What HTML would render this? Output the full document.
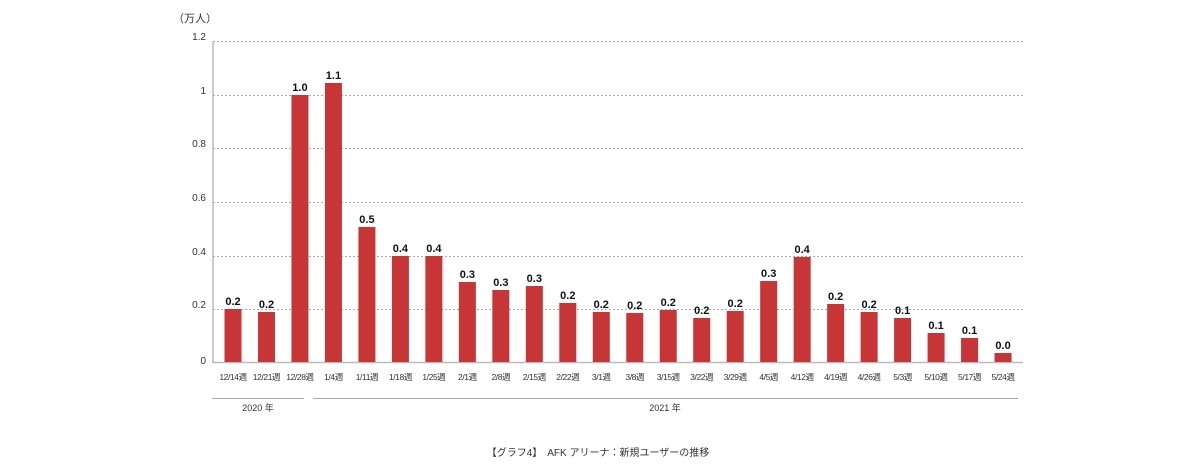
<!DOCTYPE html>
<html><head><meta charset="utf-8"><style>
body{margin:0;background:#fff;}
svg text{font-family:"Liberation Sans","Noto Sans CJK JP",sans-serif;}
.v{font-size:11px;font-weight:bold;fill:#111;text-anchor:middle;}
.l{font-size:8.5px;fill:#333;text-anchor:middle;letter-spacing:-0.4px;}
</style></head><body>
<svg width="1200" height="470" xmlns="http://www.w3.org/2000/svg">
<g stroke="#aaa" stroke-dasharray="2,2" stroke-width="1">
<line x1="213" x2="1023" y1="41.5" y2="41.5"/>
<line x1="213" x2="1023" y1="95.5" y2="95.5"/>
<line x1="213" x2="1023" y1="148.5" y2="148.5"/>
<line x1="213" x2="1023" y1="202.5" y2="202.5"/>
<line x1="213" x2="1023" y1="256.5" y2="256.5"/>
<line x1="213" x2="1023" y1="309.5" y2="309.5"/>
</g>
<line x1="213" x2="213" y1="41" y2="363" stroke="#bbb" stroke-width="1.5"/>
<line x1="212" x2="1023" y1="362.5" y2="362.5" stroke="#bbb" stroke-width="1.5"/>
<g font-size="10" fill="#333" text-anchor="end">
<text x="206" y="40">1.2</text><text x="206" y="94">1</text><text x="206" y="147">0.8</text>
<text x="206" y="201">0.6</text><text x="206" y="255">0.4</text><text x="206" y="308">0.2</text><text x="206" y="364">0</text>
</g>
<text x="173" y="22" font-size="11" fill="#333">（万人）</text>
<g fill="#c83537">
<rect x="224.5" y="309" width="17" height="53"/>
<rect x="257.98" y="312" width="17" height="50"/>
<rect x="291.46" y="95" width="17" height="267"/>
<rect x="324.94" y="83" width="17" height="279"/>
<rect x="358.42" y="227" width="17" height="135"/>
<rect x="391.9" y="256" width="17" height="106"/>
<rect x="425.38" y="256" width="17" height="106"/>
<rect x="458.86" y="282" width="17" height="80"/>
<rect x="492.34" y="290" width="17" height="72"/>
<rect x="525.82" y="286" width="17" height="76"/>
<rect x="559.3" y="303" width="17" height="59"/>
<rect x="592.78" y="312" width="17" height="50"/>
<rect x="626.26" y="313" width="17" height="49"/>
<rect x="659.74" y="310" width="17" height="52"/>
<rect x="693.22" y="318" width="17" height="44"/>
<rect x="726.7" y="311" width="17" height="51"/>
<rect x="760.18" y="281" width="17" height="81"/>
<rect x="793.66" y="257" width="17" height="105"/>
<rect x="827.14" y="304" width="17" height="58"/>
<rect x="860.62" y="312" width="17" height="50"/>
<rect x="894.1" y="318" width="17" height="44"/>
<rect x="927.58" y="333" width="17" height="29"/>
<rect x="961.06" y="338" width="17" height="24"/>
<rect x="994.54" y="353" width="17" height="9"/>
</g>
<text class="v" x="233" y="305">0.2</text>
<text class="v" x="266.48" y="308">0.2</text>
<text class="v" x="299.96" y="91">1.0</text>
<text class="v" x="333.44" y="79">1.1</text>
<text class="v" x="366.92" y="223">0.5</text>
<text class="v" x="400.4" y="252">0.4</text>
<text class="v" x="433.88" y="252">0.4</text>
<text class="v" x="467.36" y="278">0.3</text>
<text class="v" x="500.84" y="286">0.3</text>
<text class="v" x="534.32" y="282">0.3</text>
<text class="v" x="567.8" y="299">0.2</text>
<text class="v" x="601.28" y="308">0.2</text>
<text class="v" x="634.76" y="309">0.2</text>
<text class="v" x="668.24" y="306">0.2</text>
<text class="v" x="701.72" y="314">0.2</text>
<text class="v" x="735.2" y="307">0.2</text>
<text class="v" x="768.68" y="277">0.3</text>
<text class="v" x="802.16" y="253">0.4</text>
<text class="v" x="835.64" y="300">0.2</text>
<text class="v" x="869.12" y="308">0.2</text>
<text class="v" x="902.6" y="314">0.1</text>
<text class="v" x="936.08" y="329">0.1</text>
<text class="v" x="969.56" y="334">0.1</text>
<text class="v" x="1003.04" y="349">0.0</text>
<text class="l" x="233" y="380">12/14週</text>
<text class="l" x="266.48" y="380">12/21週</text>
<text class="l" x="299.96" y="380">12/28週</text>
<text class="l" x="333.44" y="380">1/4週</text>
<text class="l" x="366.92" y="380">1/11週</text>
<text class="l" x="400.4" y="380">1/18週</text>
<text class="l" x="433.88" y="380">1/25週</text>
<text class="l" x="467.36" y="380">2/1週</text>
<text class="l" x="500.84" y="380">2/8週</text>
<text class="l" x="534.32" y="380">2/15週</text>
<text class="l" x="567.8" y="380">2/22週</text>
<text class="l" x="601.28" y="380">3/1週</text>
<text class="l" x="634.76" y="380">3/8週</text>
<text class="l" x="668.24" y="380">3/15週</text>
<text class="l" x="701.72" y="380">3/22週</text>
<text class="l" x="735.2" y="380">3/29週</text>
<text class="l" x="768.68" y="380">4/5週</text>
<text class="l" x="802.16" y="380">4/12週</text>
<text class="l" x="835.64" y="380">4/19週</text>
<text class="l" x="869.12" y="380">4/26週</text>
<text class="l" x="902.6" y="380">5/3週</text>
<text class="l" x="936.08" y="380">5/10週</text>
<text class="l" x="969.56" y="380">5/17週</text>
<text class="l" x="1003.04" y="380">5/24週</text>
<line x1="212" x2="304" y1="398.5" y2="398.5" stroke="#aaa"/>
<line x1="313" x2="1018" y1="398.5" y2="398.5" stroke="#aaa"/>
<text x="258" y="411" font-size="9" fill="#333" text-anchor="middle">2020 年</text>
<text x="665" y="411" font-size="9" fill="#333" text-anchor="middle">2021 年</text>
<text x="598" y="456" font-size="10" fill="#333" text-anchor="middle">【グラフ4】　AFK アリーナ：新規ユーザーの推移</text>
</svg>
</body></html>
